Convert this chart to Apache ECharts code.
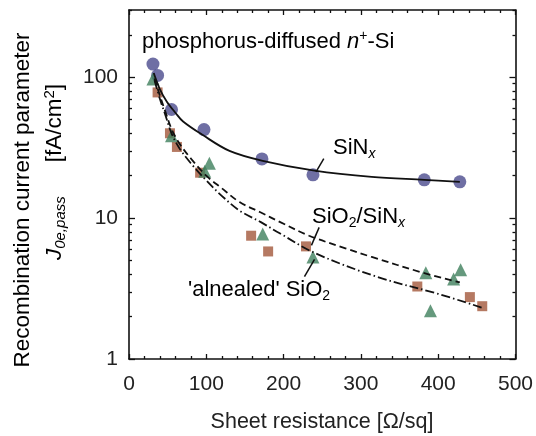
<!DOCTYPE html>
<html><head><meta charset="utf-8">
<script src="https://cdn.jsdelivr.net/npm/echarts@6/dist/echarts.min.js"></script>
<style>html,body{margin:0;padding:0;background:#fff}#c{width:536px;height:436px}</style>
</head><body><div id="c"></div>
<script>
// ---- data ----
const xTicks = [0, 100, 200, 300, 400, 500];
const yMajorTicks = [1, 10, 100];
const yMinorTicks = [2,3,4,5,6,7,8,9,20,30,40,50,60,70,80,90,200,300];

// SiNx (circles)
const sinxR = [31, 37, 55, 97, 172, 238, 382, 428];
const sinxJ = [124, 103, 59, 42.5, 26.3, 20.3, 18.7, 18.1];
// squares
const sqR = [37, 53, 62, 92, 158, 180, 229, 373, 441, 457];
const sqJ = [78, 40, 32, 21, 7.5, 5.8, 6.3, 3.27, 2.75, 2.37];
// triangles
const triR = [31, 55, 98, 104, 173, 238, 384, 390, 420, 429];
const triJ = [97, 38.5, 21.5, 24.5, 7.7, 5.3, 4.1, 2.2, 3.7, 4.3];

// fitted curves
const fitSinxR = [32, 40, 49, 60, 70, 95, 130, 173, 240, 314, 382, 428];
const fitSinxJ = [107, 82, 67, 56, 48.5, 39, 30, 25.5, 21.7, 19.6, 18.7, 18.1];
const fitStackR = [33, 40, 47, 55, 65, 80, 100, 120, 143, 170, 195, 233, 280, 314, 380, 428];
const fitStackJ = [98, 74, 57, 43, 34, 26.5, 20, 16.3, 13.0, 11.0, 9.4, 7.5, 6.1, 5.3, 4.1, 3.5];
const fitOxR = [33, 40, 47, 55, 65, 80, 100, 120, 143, 170, 195, 242, 323, 400, 458];
const fitOxJ = [95, 70, 54, 40, 31.5, 24.5, 18.5, 14.4, 11.3, 9.4, 7.8, 5.6, 3.8, 2.9, 2.3];

// leader lines for the labels (data coordinates)
const leaderSinx = [[252, 26.4], [242, 21.3]];
const leaderStack = [[246, 8.6], [236, 6.4]];
const leaderOx = [[227, 3.85], [240, 5.1]];

const zip = (a, b) => a.map((v, i) => [v, b[i]]);
const FONT = '"Liberation Sans", Arial, sans-serif';
const TXT = '#222';

const chart = echarts.init(document.getElementById('c'), null, {renderer: 'canvas'});

function xAx(pos, showLabel) {
  return {
    type: 'value', position: pos, min: 0, max: 500, interval: 100,
    axisLine: {show: true, onZero: false, lineStyle: {color: '#111', width: 1.6}},
    axisTick: {show: true, inside: true, length: 5, lineStyle: {color: '#111', width: 1.3}},
    minorTick: {show: true, splitNumber: 5, length: 3, lineStyle: {color: '#111', width: 1.3}},
    splitLine: {show: false}, minorSplitLine: {show: false},
    axisLabel: {show: showLabel, fontSize: 21, color: TXT, fontFamily: FONT, margin: 15,
      customValues: xTicks}
  };
}
function yAx(pos, vals, len, showLine, showLabel) {
  return {
    type: 'log', logBase: 10, position: pos, min: 1, max: 300,
    axisLine: {show: showLine, onZero: false, lineStyle: {color: '#111', width: 1.6}},
    axisTick: {show: true, inside: true, length: len, customValues: vals, lineStyle: {color: '#111', width: 1.3}},
    minorTick: {show: false},
    splitLine: {show: false},
    axisLabel: {show: showLabel, fontSize: 21, color: TXT, fontFamily: FONT, margin: 11,
      customValues: yMajorTicks}
  };
}

const richBase = {
  n: {fontSize: 22, fontFamily: FONT, color: TXT, lineHeight: 26},
  i: {fontSize: 22, fontFamily: FONT, color: TXT, fontStyle: 'italic', lineHeight: 26},
  sub: {fontSize: 14, fontFamily: FONT, color: TXT, verticalAlign: 'bottom', lineHeight: 14},
  isub: {fontSize: 14, fontFamily: FONT, color: TXT, fontStyle: 'italic', verticalAlign: 'bottom', lineHeight: 14},
  sup: {fontSize: 14, fontFamily: FONT, color: TXT, verticalAlign: 'top', lineHeight: 14}
};
const richY = {
  n: {fontSize: 22.5, fontFamily: FONT, color: TXT, lineHeight: 26},
  i: {fontSize: 22.5, fontFamily: FONT, color: TXT, fontStyle: 'italic', lineHeight: 26},
  isub: {fontSize: 15, fontFamily: FONT, color: TXT, fontStyle: 'italic', verticalAlign: 'bottom', lineHeight: 15},
  sup: {fontSize: 15, fontFamily: FONT, color: TXT, verticalAlign: 'top', lineHeight: 15},
  gap: {width: 34, lineHeight: 26}
};

function leader(pts) {
  return {
    silent: true, symbol: 'none', label: {show: false},
    lineStyle: {color: '#111', width: 1.5, type: 'solid'},
    data: [[{coord: pts[0]}, {coord: pts[1]}]]
  };
}

const option = {
  animation: false,
  backgroundColor: '#fff',
  grid: {left: 129, right: 19, top: 10, bottom: 77, containLabel: false},
  xAxis: [xAx('bottom', true), xAx('top', false)],
  yAxis: [
    yAx('left', yMajorTicks, 6, true, true),
    yAx('left', yMinorTicks, 3, false, false),
    yAx('right', yMajorTicks, 6, true, false),
    yAx('right', yMinorTicks, 3, false, false)
  ],
  series: [
    {type: 'scatter', name: 'SiNx', data: zip(sinxR, sinxJ), symbol: 'circle', symbolSize: 13,
      itemStyle: {color: '#4b4b8d'}, z: 2},
    {type: 'scatter', name: 'squares', data: zip(sqR, sqJ), symbol: 'rect', symbolSize: 10,
      itemStyle: {color: '#a3573b'}, z: 3},
    {type: 'scatter', name: 'triangles', data: zip(triR, triJ), symbol: 'triangle', symbolSize: 13,
      itemStyle: {color: '#3f7f5d'}, z: 4},
    {type: 'line', name: 'fit SiNx', data: zip(fitSinxR, fitSinxJ), smooth: 0.35, showSymbol: false, symbol: 'none',
      lineStyle: {color: '#111', width: 1.8}, z: 5, markLine: leader(leaderSinx)},
    {type: 'line', name: 'fit SiO2/SiNx', data: zip(fitStackR, fitStackJ), smooth: 0.35, showSymbol: false, symbol: 'none',
      lineStyle: {color: '#111', width: 1.8, type: [7, 4]}, z: 5, markLine: leader(leaderStack)},
    {type: 'line', name: 'fit annealed SiO2', data: zip(fitOxR, fitOxJ), smooth: 0.35, showSymbol: false, symbol: 'none',
      lineStyle: {color: '#111', width: 1.8, type: [9, 3, 1.5, 3]}, z: 5, markLine: leader(leaderOx)}
  ],
  graphic: [
    {type: 'text', x: 142, y: 42, z: 10, style: {
      text: '{n|phosphorus-diffused }{i|n}{sup|+}{n|-Si}', rich: richBase,
      align: 'left', verticalAlign: 'middle'}},
    {type: 'text', x: 333, y: 148, z: 10, style: {
      text: '{n|SiN}{isub|x}', rich: richBase, align: 'left', verticalAlign: 'middle'}},
    {type: 'text', x: 312, y: 217, z: 10, style: {
      text: '{n|SiO}{sub|2}{n|/SiN}{isub|x}', rich: richBase, align: 'left', verticalAlign: 'middle'}},
    {type: 'text', x: 188, y: 290, z: 10, style: {
      text: "{n|'alnealed' SiO}{sub|2}", rich: richBase, align: 'left', verticalAlign: 'middle'}},
    {type: 'text', x: 322, y: 422, z: 10, style: {
      text: 'Sheet resistance [Ω/sq]', fontSize: 21.5, fontFamily: FONT, fill: TXT,
      align: 'center', verticalAlign: 'middle'}},
    {type: 'text', x: 23, y: 200, rotation: Math.PI / 2, z: 10, style: {
      text: '{n|Recombination current parameter}',
      rich: richY, align: 'center', verticalAlign: 'middle'}},
    {type: 'text', x: 55, y: 172, rotation: Math.PI / 2, z: 10, style: {
      text: '{i|J}{isub|0e,pass}{gap|}{n|[fA/cm}{sup|2}{n|]}',
      rich: richY, align: 'center', verticalAlign: 'middle'}}
  ]
};
chart.setOption(option);
</script>
</body></html>
